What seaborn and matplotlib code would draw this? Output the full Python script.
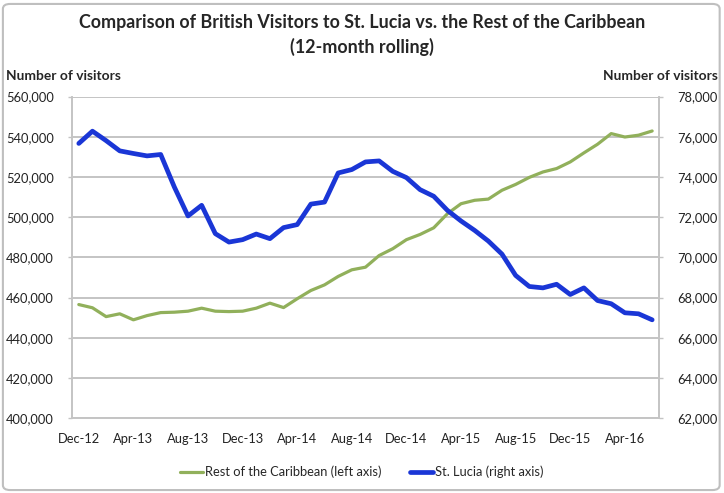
import pandas as pd
import matplotlib
matplotlib.use("Agg")
import matplotlib.pyplot as plt
from matplotlib.patches import FancyBboxPatch
from matplotlib.ticker import FuncFormatter
import seaborn as sns

# monthly, Dec-12 .. Jun-16 (12-month rolling totals)
months = pd.date_range("2012-12-01", "2016-06-01", freq="MS").strftime("%b-%y").tolist()

rest_of_caribbean = [
    456500, 454900, 450500, 451900, 448900, 451000, 452500, 452700, 453200, 454700,
    453200, 453000, 453200, 454700, 457200, 455000, 459400, 463500, 466300, 470500,
    473800, 475100, 480900, 484300, 488800, 491400, 494700, 501700, 506700, 508400,
    509000, 513400, 516300, 519800, 522500, 524200, 527500, 532000, 536300, 541600,
    539900, 540800, 542900,
]

st_lucia = [
    75670, 76280, 75810, 75300, 75170, 75050, 75120, 73500, 72060, 72590,
    71180, 70760, 70880, 71160, 70930, 71480, 71630, 72650, 72750, 74200,
    74370, 74750, 74800, 74280, 73970, 73370, 73040, 72340, 71810, 71340,
    70810, 70160, 69100, 68550, 68480, 68660, 68150, 68480, 67850, 67690,
    67240, 67190, 66890,
]

df = pd.DataFrame({"idx": range(len(months)), "month": months,
                   "rest": rest_of_caribbean, "lucia": st_lucia})

sns.set_style("white")
plt.rcParams["font.family"] = ["Lato", "DejaVu Sans"]

fig = plt.figure(figsize=(7.24, 4.93), dpi=100)
ax = fig.add_axes([0.0994, 0.152, 0.8108, 0.652])
ax2 = ax.twinx()

green = "#91b05b"
blue = "#1a36d6"
grid_c = "#c4c4c4"
txt_c = "#222222"
fs = 9.3

sns.lineplot(data=df, x="idx", y="rest", ax=ax, color=green, lw=2.3,
             label="Rest of the Caribbean (left axis)", legend=False)
sns.lineplot(data=df, x="idx", y="lucia", ax=ax2, color=blue, lw=3.4,
             label="St. Lucia (right axis)", legend=False)

ax.set_ylim(400000, 560000)
ax.set_yticks(range(400000, 560001, 20000))
ax2.set_ylim(62000, 78000)
ax2.set_yticks(range(62000, 78001, 2000))
fmt = FuncFormatter(lambda v, p: f"{int(v):,}")
ax.yaxis.set_major_formatter(fmt)
ax2.yaxis.set_major_formatter(fmt)

ax.set_xlim(-0.5, len(months) - 0.5)
ax.set_xticks(range(0, len(months), 4))
ax.set_xticklabels(months[::4])
ax.set_xticks([i - 0.5 for i in range(0, len(months), 4)], minor=True)
ax.tick_params(axis="x", which="major", length=0, pad=11, labelsize=fs, colors=txt_c)
ax.tick_params(axis="x", which="minor", length=3.5, width=1, color=grid_c, direction="out")
for a in (ax, ax2):
    a.tick_params(axis="y", length=3, width=1, color=grid_c, direction="out", pad=10,
                  labelsize=fs, labelcolor=txt_c)

ax.grid(True, axis="y", color=grid_c, lw=1.4)
ax.set_axisbelow(True)
for a in (ax, ax2):
    for s in a.spines.values():
        s.set_color(grid_c)
        s.set_linewidth(1.2)
    a.spines["top"].set_visible(False)
    a.set_xlabel("")
    a.set_ylabel("")

fig.text(0.5, 0.955, "Comparison of British Visitors to St. Lucia vs. the Rest of the Caribbean",
         ha="center", va="center", fontsize=12.9, fontweight="bold")
fig.text(0.5, 0.905, "(12-month rolling)", ha="center", va="center", fontsize=12.9, fontweight="bold")
fig.text(0.008, 0.846, "Number of visitors", ha="left", va="center", fontsize=9.9, fontweight="bold")
fig.text(0.992, 0.846, "Number of visitors", ha="right", va="center", fontsize=9.9, fontweight="bold")

h1, l1 = ax.get_legend_handles_labels()
h2, l2 = ax2.get_legend_handles_labels()
fig.legend(h1 + h2, l1 + l2, loc="center", bbox_to_anchor=(0.5, 0.043), ncol=2,
           frameon=False, fontsize=fs, handlelength=1.8, handletextpad=0.15,
           columnspacing=2.2)

fig.patches.append(FancyBboxPatch((0.004, 0.006), 0.99, 0.986,
                                  boxstyle="round,pad=0,rounding_size=0.01",
                                  transform=fig.transFigure, fill=False,
                                  ec="#bfbfbf", lw=1.5))

fig.savefig("out.png", dpi=100)
